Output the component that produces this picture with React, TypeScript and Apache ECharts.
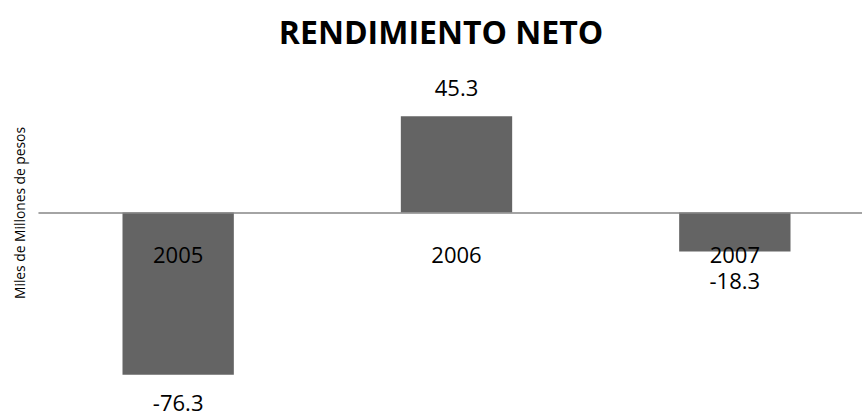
import React, { useEffect, useRef } from "react";
import * as echarts from "echarts";

const titleText = "RENDIMIENTO NETO";
const yAxisName = "Miles de Millones de pesos";
const categories = ["2005", "2006", "2007"];
const values = [-76.3, 45.3, -18.3];

const FONT = "'Open Sans', 'Noto Sans', sans-serif";

const Y_MIN = -80;
const Y_MAX = 50;
const GRID_TOP = 106.25;
const GRID_HEIGHT = 276.25;
const ZERO_OFFSET = -(GRID_HEIGHT * (0 - Y_MIN)) / (Y_MAX - Y_MIN);

export default function App() {
  const ref = useRef<HTMLDivElement>(null);

  useEffect(() => {
    if (!ref.current) return;
    const chart = echarts.init(ref.current, undefined, { renderer: "svg" });
    const option = {
      animation: false,
      backgroundColor: "#ffffff",
      grid: {
        left: 39,
        width: 835,
        top: GRID_TOP,
        height: GRID_HEIGHT,
        containLabel: false,
        outerBoundsMode: "none",
      },
      graphic: [
        {
          type: "text",
          x: 441,
          y: 31,
          style: {
            text: titleText,
            fontFamily: FONT,
            fontWeight: "bold",
            fontSize: 32,
            fill: "#000000",
            align: "center",
            verticalAlign: "middle",
          },
        },
        {
          type: "text",
          x: 19,
          y: 213,
          rotation: Math.PI / 2,
          style: {
            text: yAxisName,
            fontFamily: FONT,
            fontSize: 13.8,
            fill: "#000000",
            align: "center",
            verticalAlign: "middle",
          },
        },
      ],
      xAxis: {
        type: "category",
        data: categories,
        z: 10,
        position: "bottom",
        offset: ZERO_OFFSET,
        axisLine: { show: true, onZero: false, lineStyle: { color: "#868686", width: 1.5 } },
        axisTick: { show: false },
        axisLabel: {
          show: true,
          margin: 30,
          fontFamily: FONT,
          fontSize: 22,
          color: "#000000",
        },
        splitLine: { show: false },
      },
      yAxis: {
        type: "value",
        min: Y_MIN,
        max: Y_MAX,
        show: false,
        splitLine: { show: false },
      },
      series: [
        {
          type: "bar",
          barWidth: "40%",
          itemStyle: { color: "#646464" },
          data: values.map((v) => ({
            value: v,
            label: {
              show: true,
              position: v < 0 ? "bottom" : "top",
              distance: v < -50 ? 16 : 18,
              fontFamily: FONT,
              fontSize: 22,
              color: "#000000",
              formatter: (p: any) => String(p.value),
            },
          })),
        },
      ],
    };
    chart.setOption(option as any);
    return () => chart.dispose();
  }, []);

  return (
    <div
      ref={ref}
      style={{ position: "absolute", left: 0, top: 0, width: 862, height: 412 }}
    />
  );
}
